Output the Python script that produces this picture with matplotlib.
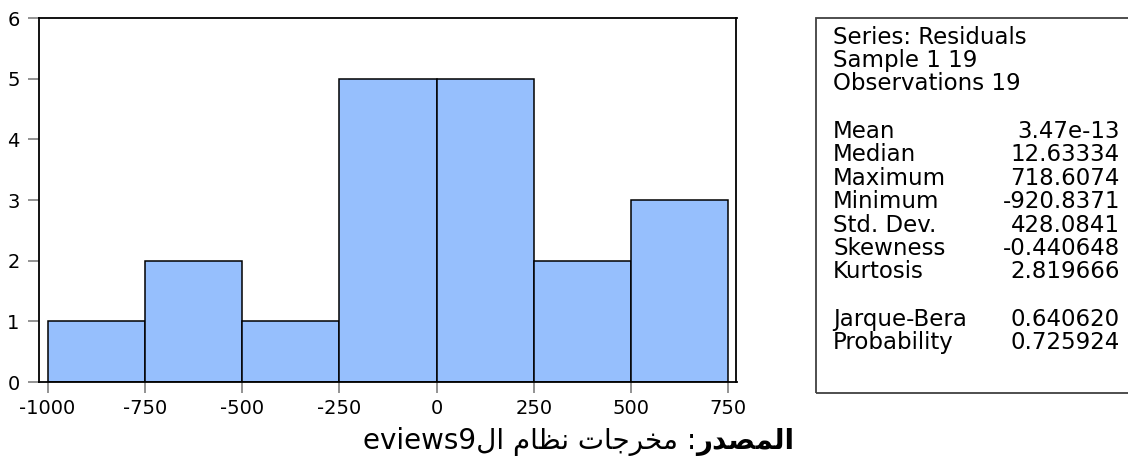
import numpy as np
import matplotlib
matplotlib.use('Agg')
from matplotlib import pyplot as plt
from matplotlib.patches import Rectangle

plt.rcParams['font.family'] = ['DejaVu Sans']
plt.rcParams['axes.unicode_minus'] = False

# residual histogram (bin edges and counts)
bin_edges = [-1000, -750, -500, -250, 0, 250, 500, 750]
counts = [1, 2, 1, 5, 5, 2, 3]
x_ticks = [-1000, -750, -500, -250, 0, 250, 500, 750]
y_ticks = [0, 1, 2, 3, 4, 5, 6]

# descriptive statistics block
header_lines = ['Series: Residuals', 'Sample 1 19', 'Observations 19']
stat_names = ['Mean', 'Median', 'Maximum', 'Minimum', 'Std. Dev.', 'Skewness', 'Kurtosis']
stat_values = ['3.47e-13', '12.63334', '718.6074', '-920.8371', '428.0841', '-0.440648', '2.819666']
test_names = ['Jarque-Bera', 'Probability']
test_values = ['0.640620', '0.725924']

# source note, arabic glyphs already shaped and in display order
source_bold = '\uFEAD\uFEAA\uFEBC\uFEE4\uFEDF\uFE8D'
source_rest = ('eviews9' + '\uFEDD\uFE8D' + ' ' + '\uFEE1\uFE8E\uFEC8\uFEE7' + ' '
               + '\uFE95\uFE8E\uFE9F\uFEAE\uFEA8\uFEE3' + ' :')

W, H = 1128, 461
fig = plt.figure(figsize=(W / 100, H / 100), dpi=100)
ax = fig.add_axes([39 / W, 1 - 382 / H, (736.5 - 39) / W, (382 - 18) / H])

edges = np.array(bin_edges)
ax.bar(edges[:-1], counts, width=np.diff(edges), align='edge',
       color='#96bffd', edgecolor='black', linewidth=1.1)

ax.set_xlim(-1022, 771)
ax.set_ylim(0, 6)
ax.set_xticks(x_ticks)
ax.set_yticks(y_ticks)
ax.tick_params(axis='both', direction='out', length=8, width=1.2, color='#808080',
               labelsize=14, labelcolor='black')
ax.tick_params(axis='y', pad=6)
ax.tick_params(axis='x', pad=4)
for sp in ax.spines.values():
    sp.set_linewidth(1.3)
    sp.set_color('black')

# statistics box
box_left, box_top, box_bottom = 816 / W, 1 - 18 / H, 1 - 393 / H
fig.patches.append(Rectangle((box_left, box_bottom), 1.2 - box_left, box_top - box_bottom,
                             transform=fig.transFigure, fill=False,
                             edgecolor='#404040', linewidth=1.3))

x_lab = 833 / W
x_val = 1120 / W
step = 23.5
y0 = 37
rows = [(t, None) for t in header_lines] + [(None, None)]
rows += list(zip(stat_names, stat_values)) + [(None, None)]
rows += list(zip(test_names, test_values))
for i, (name, val) in enumerate(rows):
    yy = 1 - (y0 + i * step) / H
    if name:
        fig.text(x_lab, yy, name, fontsize=16.5, va='center', ha='left')
    if val:
        fig.text(x_val, yy, val, fontsize=16.5, va='center', ha='right')

# source note below the chart
bold = fig.text(794 / W, 1 - 442 / H, source_bold, fontsize=20, fontweight='bold',
                va='center', ha='right')
ax.annotate(source_rest, xy=(0, 0.5), xycoords=bold, fontsize=20,
            va='center', ha='right', annotation_clip=False)

fig.savefig('out.png', dpi=100)
